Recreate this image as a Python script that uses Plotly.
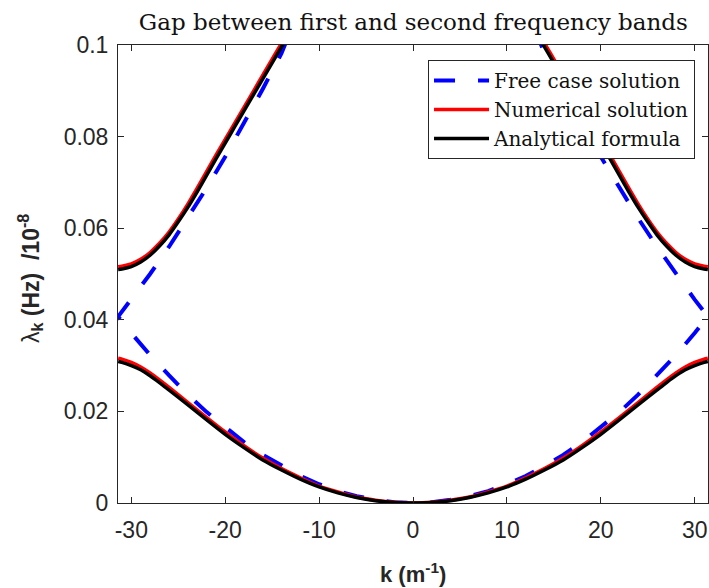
import plotly.graph_objects as go

# ---------------- data ----------------
# first band, k from -31.4 to 31.4
k_band1 = [-31.4, -31, -30, -29, -28, -27, -26, -24, -22, -20, -18, -16, -14, -12, -10, -8, -6, -4, -2, 0,
           2, 4, 6, 8, 10, 12, 14, 16, 18, 20, 22, 24, 26, 27, 28, 29, 30, 31, 31.4]
num_band1 = [0.0316, 0.0314, 0.0307, 0.0297, 0.0284, 0.0269, 0.0253, 0.0220, 0.0187, 0.0155, 0.0125, 0.0098,
             0.0075, 0.0055, 0.0037, 0.0024, 0.0013, 0.0006, 0.00015, 0.0,
             0.00015, 0.0006, 0.0013, 0.0024, 0.0037, 0.0055, 0.0075, 0.0098, 0.0125, 0.0155, 0.0187, 0.0220,
             0.0253, 0.0269, 0.0284, 0.0297, 0.0307, 0.0314, 0.0316]
ana_band1 = [0.0309, 0.0307, 0.0300, 0.0291, 0.0278, 0.0263, 0.0247, 0.0215, 0.0182, 0.0150, 0.0121, 0.0094,
             0.0072, 0.0052, 0.0035, 0.0022, 0.0012, 0.0005, 0.0001, 0.0,
             0.0001, 0.0005, 0.0012, 0.0022, 0.0035, 0.0052, 0.0072, 0.0094, 0.0121, 0.0150, 0.0182, 0.0215,
             0.0247, 0.0263, 0.0278, 0.0291, 0.0300, 0.0307, 0.0309]

# second band, left side (k from -31.4 up to where it leaves the top)
k_band2_left = [-31.4, -31, -30, -29, -28, -27, -26, -25, -24, -23, -22, -21, -20, -19, -18, -17, -16, -15, -14, -13.8]
num_band2_left = [0.0516, 0.0517, 0.0522, 0.0532, 0.0547, 0.0567, 0.0591, 0.0620, 0.0652, 0.0687, 0.0723,
                  0.0759, 0.0794, 0.0829, 0.0864, 0.0899, 0.0934, 0.0969, 0.1004, 0.1011]
ana_band2_left = [0.0510, 0.0511, 0.0516, 0.0526, 0.0541, 0.0561, 0.0585, 0.0614, 0.0645, 0.0679, 0.0715,
                  0.0751, 0.0786, 0.0821, 0.0856, 0.0891, 0.0926, 0.0961, 0.0996, 0.1003]
# second band, right side
k_band2_right = [13.8, 14, 15, 16, 17, 18, 19, 20, 21, 22, 23, 24, 25, 26, 27, 28, 29, 30, 31, 31.4]
num_band2_right = [0.1011, 0.1004, 0.0969, 0.0934, 0.0899, 0.0864, 0.0829, 0.0794, 0.0759, 0.0723, 0.0687,
                   0.0652, 0.0620, 0.0591, 0.0567, 0.0547, 0.0532, 0.0522, 0.0517, 0.0516]
ana_band2_right = [0.1003, 0.0996, 0.0961, 0.0926, 0.0891, 0.0856, 0.0821, 0.0786, 0.0751, 0.0715, 0.0679,
                   0.0645, 0.0614, 0.0585, 0.0561, 0.0541, 0.0526, 0.0516, 0.0511, 0.0510]

# free case (dashed), one continuous path: top-left -> left edge -> 0 -> right edge -> top-right
k_free = [-13.4, -14, -16, -18, -20, -22, -24, -26, -28, -30, -31.4,
          -30, -28, -26, -24, -22, -20, -18, -16, -14, -12, -10, -8, -6, -4, -2, 0,
          2, 4, 6, 8, 10, 12, 14, 16, 18, 20, 22, 24, 26, 28, 30, 31.4,
          30, 28, 26, 24, 22, 20, 18, 16, 14, 13.4]
free_vals = [0.1013, 0.0982, 0.0904, 0.0828, 0.0756, 0.0687, 0.0621, 0.0559, 0.0500, 0.0444, 0.0407,
             0.0371, 0.0323, 0.0279, 0.0237, 0.0199, 0.0165, 0.0133, 0.0105, 0.0081, 0.0059, 0.0041, 0.0026,
             0.0015, 0.0007, 0.00016, 0.0,
             0.00016, 0.0007, 0.0015, 0.0026, 0.0041, 0.0059, 0.0081, 0.0105, 0.0133, 0.0165, 0.0199, 0.0237,
             0.0279, 0.0323, 0.0371, 0.0407,
             0.0444, 0.0500, 0.0559, 0.0621, 0.0687, 0.0756, 0.0828, 0.0904, 0.0982, 0.1013]

x_ticks = [-30, -20, -10, 0, 10, 20, 30]
x_ticklabels = ["-30", "-20", "-10", "0", "10", "20", "30"]
y_ticks = [0, 0.02, 0.04, 0.06, 0.08, 0.1]
y_ticklabels = ["0", "0.02", "0.04", "0.06", "0.08", "0.1"]

title_text = "Gap between first and second frequency bands"
names = ["Free case solution", "Numerical solution", "Analytical formula"]

# ---------------- figure ----------------
BLUE = "#0000ff"
RED = "#ff0000"
BLACK = "#000000"
LW = 3.5

fig = go.Figure()

fig.add_trace(go.Scatter(x=k_free, y=free_vals, mode="lines", name=names[0],
                         line=dict(color=BLUE, width=4, dash="21px,23px"), legendgroup="free"))

spl = dict(shape="spline", smoothing=0.6)
fig.add_trace(go.Scatter(x=k_band1, y=num_band1, mode="lines", name=names[1], legendgroup="num",
                         line=dict(color=RED, width=LW, **spl)))
fig.add_trace(go.Scatter(x=k_band2_left, y=num_band2_left, mode="lines", name=names[1], legendgroup="num",
                         showlegend=False, line=dict(color=RED, width=LW, **spl)))
fig.add_trace(go.Scatter(x=k_band2_right, y=num_band2_right, mode="lines", name=names[1], legendgroup="num",
                         showlegend=False, line=dict(color=RED, width=LW, **spl)))

fig.add_trace(go.Scatter(x=k_band1, y=ana_band1, mode="lines", name=names[2], legendgroup="ana",
                         line=dict(color=BLACK, width=LW, **spl)))
fig.add_trace(go.Scatter(x=k_band2_left, y=ana_band2_left, mode="lines", name=names[2], legendgroup="ana",
                         showlegend=False, line=dict(color=BLACK, width=LW, **spl)))
fig.add_trace(go.Scatter(x=k_band2_right, y=ana_band2_right, mode="lines", name=names[2], legendgroup="ana",
                         showlegend=False, line=dict(color=BLACK, width=LW, **spl)))

AX = "#262626"
TICKFONT = dict(family="Liberation Sans, Arial, sans-serif", size=23, color=AX)

fig.update_layout(
    width=709, height=588,
    margin=dict(l=118, r=1, t=45, b=85, autoexpand=False),
    paper_bgcolor="white", plot_bgcolor="white",
    showlegend=True,
    title=dict(text=title_text, x=0.583, xanchor="center", y=0.963, yanchor="middle",
               font=dict(family="DejaVu Serif, serif", size=23, color="#111111")),
    legend=dict(x=0.978, xanchor="right", y=0.967, yanchor="top",
                bgcolor="white", bordercolor="#262626", borderwidth=1,
                font=dict(family="DejaVu Serif, serif", size=20, color="#111111"),
                itemwidth=55, tracegroupgap=0, traceorder="normal"),
    xaxis=dict(range=[-31.416, 31.416], tickvals=x_ticks, ticktext=x_ticklabels, ticks="inside",
               ticklen=6, tickwidth=1, tickcolor=AX, showline=True, linecolor=AX, linewidth=1,
               mirror="ticks", showgrid=False, zeroline=False, tickfont=TICKFONT, ticklabelstandoff=6,
               automargin=False),
    yaxis=dict(range=[0, 0.1], tickvals=y_ticks, ticktext=y_ticklabels, ticks="inside", ticklen=6,
               tickwidth=1, tickcolor=AX, showline=True, linecolor=AX, linewidth=1, mirror="ticks",
               showgrid=False, zeroline=False, tickfont=TICKFONT, ticklabelstandoff=4, automargin=False),
    annotations=[
        dict(text="<b>k (m<sup>-1</sup>)</b>", xref="paper", yref="paper", x=0.5, y=-0.152,
             xanchor="center", yanchor="middle", showarrow=False,
             font=dict(family="Liberation Sans, Arial, sans-serif", size=22, color=AX)),
        dict(text="λ<sub><b>k</b></sub><b> (Hz)  /10<sup>-8</sup></b>", xref="paper", yref="paper",
             x=-0.150, y=0.49, xanchor="center", yanchor="middle", textangle=-90, showarrow=False,
             font=dict(family="Liberation Sans, Arial, sans-serif", size=23, color=AX)),
    ],
)

fig.write_html("out.html", config={"displayModeBar": False},
               post_script="document.body.style.margin='0';")
